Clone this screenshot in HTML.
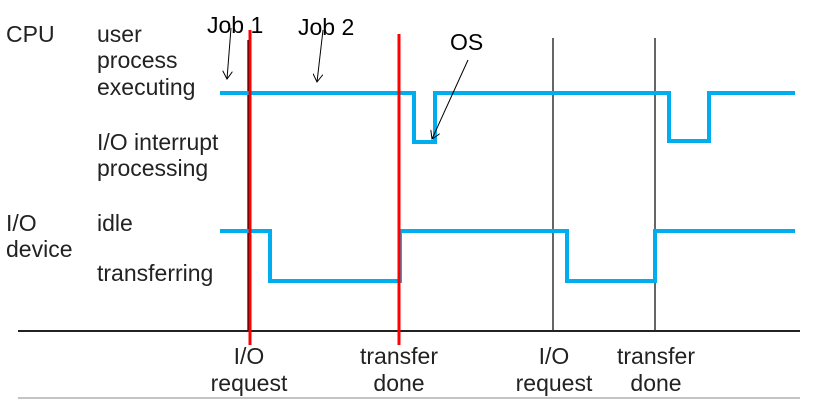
<!DOCTYPE html>
<html><head><style>body{margin:0;background:#fff}</style></head><body>
<svg width="818" height="406" xmlns="http://www.w3.org/2000/svg" font-family="Liberation Sans, sans-serif" font-size="23" fill="#222">
<defs><marker id="a" markerWidth="10" markerHeight="10" refX="8" refY="5" orient="auto" markerUnits="userSpaceOnUse"><path d="M0,0 L8,5 L0,10" fill="none" stroke="#000" stroke-width="1"/></marker></defs>
<text x="6" y="42">CPU</text>
<text x="97" y="42">user</text>
<text x="97" y="68">process</text>
<text x="97" y="95">executing</text>
<text x="97" y="150">I/O interrupt</text>
<text x="97" y="176">processing</text>
<text x="6" y="231">I/O</text>
<text x="6" y="257">device</text>
<text x="97" y="231">idle</text>
<text x="97" y="281">transferring</text>
<g stroke="#000" stroke-width="1.2">
<line x1="248" y1="40" x2="248" y2="331"/><line x1="553" y1="38" x2="553" y2="331"/><line x1="655" y1="38" x2="655" y2="331"/>
</g>
<line x1="18" y1="331" x2="800" y2="331" stroke="#222" stroke-width="2"/>
<line x1="18" y1="398" x2="800" y2="398" stroke="#888" stroke-width="1"/>
<polyline points="220,93 414,93 414,142 435,142 435,93 669,93 669,141 709,141 709,93 795,93" fill="none" stroke="#00aeef" stroke-width="4"/>
<polyline points="220,231 270,231 270,281 400,281 400,231 567,231 567,281 655,281 655,231 795,231" fill="none" stroke="#00aeef" stroke-width="4"/>
<line x1="250" y1="30" x2="250" y2="345" stroke="#f00" stroke-width="3"/>
<line x1="399" y1="34" x2="399" y2="345" stroke="#f00" stroke-width="3"/>
<g stroke="#000" stroke-width="1" marker-end="url(#a)">
<line x1="231" y1="28" x2="227" y2="79"/>
<line x1="323" y1="30" x2="317" y2="82"/>
<line x1="468" y1="60" x2="432" y2="139"/>
</g>
<g fill="#000">
<text x="207" y="33">Job 1</text>
<text x="298" y="35">Job 2</text>
<text x="450" y="50">OS</text>
</g>
<g text-anchor="middle">
<text x="249" y="364">I/O</text><text x="249" y="391">request</text>
<text x="399" y="364">transfer</text><text x="399" y="391">done</text>
<text x="554" y="364">I/O</text><text x="554" y="391">request</text>
<text x="656" y="364">transfer</text><text x="656" y="391">done</text>
</g>
</svg>
</body></html>
